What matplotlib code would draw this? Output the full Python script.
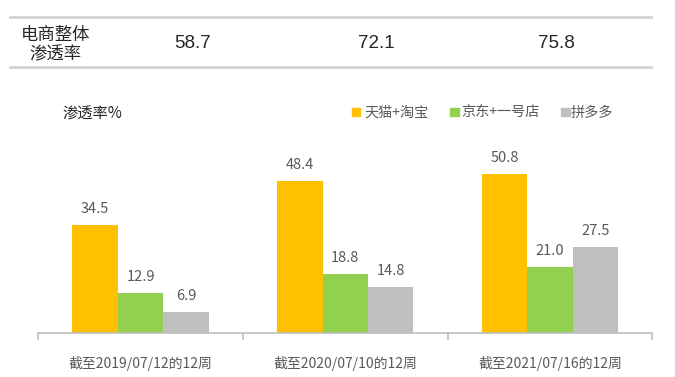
import matplotlib
matplotlib.use("Agg")
import matplotlib.pyplot as plt
import numpy as np

plt.rcParams['font.family'] = ['Noto Sans CJK SC', 'DejaVu Sans']

categories = ["截至2019/07/12的12周", "截至2020/07/10的12周", "截至2021/07/16的12周"]
series_names = ["天猫+淘宝", "京东+一号店", "拼多多"]
tmall_taobao = [34.5, 48.4, 50.8]
jd_yhd = [12.9, 18.8, 21.0]
pdd = [6.9, 14.8, 27.5]
overall_penetration = ["58.7", "72.1", "75.8"]
colors = ["#FFC000", "#92D050", "#BFBFBF"]

W, H = 675, 377
fig = plt.figure(figsize=(W/100, H/100), dpi=100)

def fx(x): return x / W
def fy(y): return 1 - y / H

ax = fig.add_axes([fx(38.3), fy(333.3), fx(652.3) - fx(38.3), (333.3 - 145) / H])
x = np.arange(len(categories))
bw = 0.222
text_col = "#595959"
for i, (vals, c) in enumerate(zip([tmall_taobao, jd_yhd, pdd], colors)):
    pos = x + (i - 1) * bw
    ax.bar(pos, vals, width=bw, color=c, zorder=2)
    for p, v in zip(pos, vals):
        ax.annotate(f"{v:.1f}", (p, v), xytext=(0, 11.5), textcoords="offset points",
                    ha="center", va="center", fontsize=10.5, color=text_col)

ax.set_xlim(-0.5, 2.5)
ax.set_ylim(0, 60)
ax.set_yticks([])
for s in ["top", "right", "left"]:
    ax.spines[s].set_visible(False)
ax.spines["bottom"].set_color("#BFBFBF")
ax.spines["bottom"].set_linewidth(1.2)
ax.set_xticks(x)
ax.set_xticklabels(categories, fontsize=10, color=text_col)
ax.tick_params(axis="x", which="major", length=0, pad=16)
ax.set_xticks([-0.5, 0.5, 1.5, 2.5], minor=True)
ax.tick_params(axis="x", which="minor", length=5, width=1.2, color="#BFBFBF", direction="out")

# Table-like header
for yy in [17.3, 66.7]:
    fig.add_artist(plt.Line2D([fx(10), fx(651)], [fy(yy), fy(yy)], color="#D3D3CF", linewidth=2))
fig.text(fx(56), fy(35), "电商整体", ha="center", va="center", fontsize=12.5, color="#262626")
fig.text(fx(55), fy(54), "渗透率", ha="center", va="center", fontsize=12.5, color="#262626")
for xx, val in zip([193, 376, 556], overall_penetration):
    fig.text(fx(xx), fy(44), val, ha="center", va="center", fontsize=13.5, color="#262626",
             family=["Liberation Sans", "DejaVu Sans"])

fig.text(fx(62), fy(114), "渗透率%", ha="left", va="center", fontsize=11, color="#262626")

# Legend
sq_x = [352, 450, 561]
tx_x = [364, 461, 571]
for sx, tx, name, c in zip(sq_x, tx_x, series_names, colors):
    fig.add_artist(plt.Rectangle((fx(sx), fy(116)), 8.5 / W, 8 / H, color=c, transform=fig.transFigure))
    fig.text(fx(tx), fy(113), name, ha="left", va="center", fontsize=10.2, color=text_col)

fig.savefig("out.png", dpi=100)
